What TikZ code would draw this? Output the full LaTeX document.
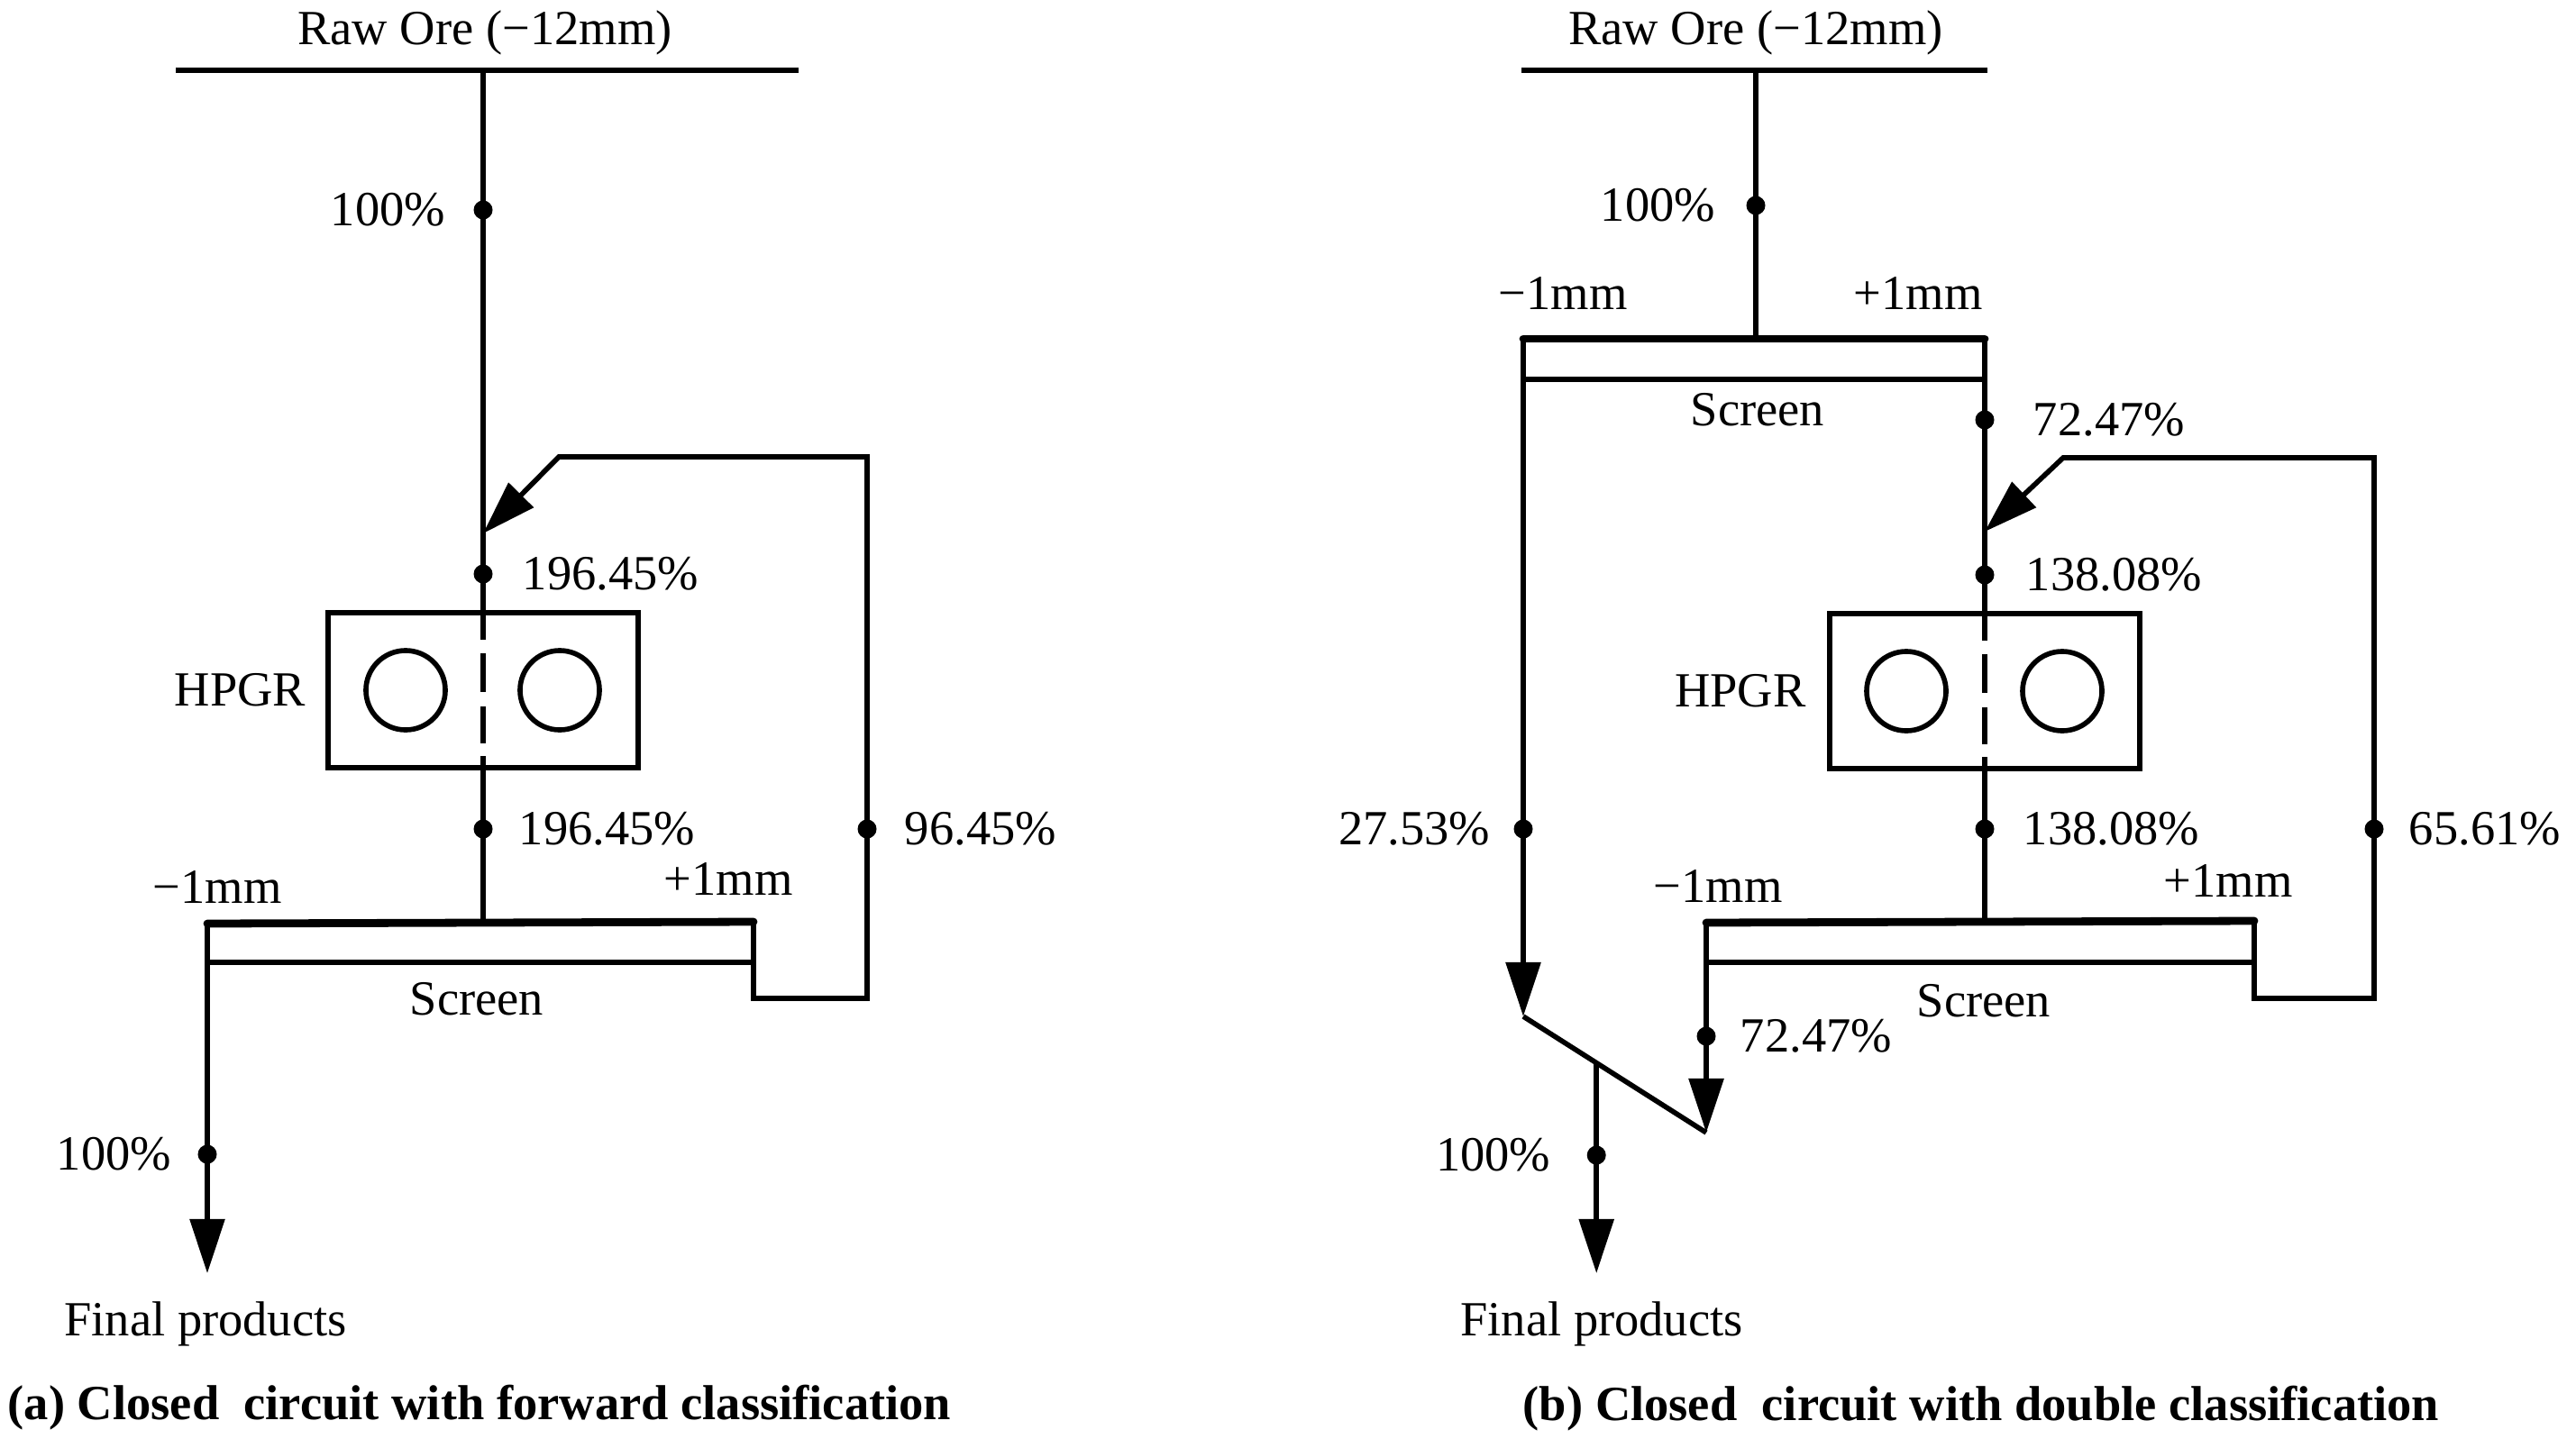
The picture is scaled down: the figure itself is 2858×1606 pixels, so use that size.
\documentclass[tikz,border=0pt]{standalone}
\usepackage{fontspec}
\setmainfont{Liberation Serif}
\usepackage{tikz}
\usetikzlibrary{arrows.meta, positioning, calc}
\tikzstyle{flow} = [
  line width=1.6pt, color=black
]
\tikzstyle{flowarrow} = [
  flow, -{Triangle[length=0.6cm, width=0.38cm]}
]
\tikzstyle{deck} = [
  line width=2.5pt, line cap=round
]
\tikzstyle{gap} = [
  flow, dash pattern=on 0.33cm off 0.15cm on 0.43cm off 0.16cm on 0.41cm off 0.14cm on 0.10cm
]
\tikzstyle{hpgrbox} = [
  rectangle, draw, line width=1.6pt, inner sep=0pt,
  minimum width=3.44cm, minimum height=1.72cm
]
\tikzstyle{roll} = [
  circle, draw, line width=1.6pt, inner sep=0pt, minimum size=0.88cm
]
\tikzstyle{sample} = [
  circle, fill=black, inner sep=0pt, minimum size=0.21cm
]
\tikzstyle{lbl} = [
  inner sep=0pt, font=\fontsize{15.5}{18}\selectfont
]
\tikzstyle{caption} = [
  inner sep=0pt, font=\bfseries\fontsize{15.5}{18}\selectfont
]

\begin{document}
\begin{tikzpicture}[x=0.01cm, y=-0.01cm]
  \useasboundingbox (0,0) rectangle (2858,1606);

  % ── (a) Feed ──────────────────────────────────────────
  \coordinate (barAw) at (195,78);
  \coordinate (barAe) at (886,78);
  \coordinate (feedA) at (536,78);
  \node[lbl] (oreA) at (538,36) {Raw Ore (−12mm)};
  \node[sample] (dA1) at (536,233) {};
  \node[lbl, left=0.3cm of dA1] (pA1) {100\%};

  % ── (a) HPGR ──────────────────────────────────────────
  \coordinate (mergeA) at (536,592);
  \node[sample] (dA2) at (536,637) {};
  \node[lbl, right=0.32cm of dA2] (pA2) {196.45\%};
  \node[hpgrbox] (hpgrA) at (536,766) {};
  \node[roll] (rollA1) at (450,766) {};
  \node[roll] (rollA2) at (621,766) {};
  \node[lbl, left=0.21cm of hpgrA] (nameA) {HPGR};
  \node[sample] (dA3) at (536,920) {};
  \node[lbl, right=0.28cm of dA3] (pA3) {196.45\%};

  % ── (a) Screen ────────────────────────────────────────
  \coordinate (scrAw) at (230,1025);
  \coordinate (scrAe) at (836,1023);
  \coordinate (scrAc) at (536,1024);
  \coordinate (deckAw) at (230,1068);
  \coordinate (deckAe) at (836,1068);
  \node[lbl] (minusA) at (241,984) {−1mm};
  \node[lbl] (plusA) at (808,975) {+1mm};
  \node[lbl] (screenA) at (529,1109) {Screen};

  % ── (a) Recycle ───────────────────────────────────────
  \coordinate (retA1) at (836,1108);
  \coordinate (retA2) at (962,1108);
  \node[sample] (dA4) at (962,920) {};
  \node[lbl, right=0.3cm of dA4] (pA4) {96.45\%};
  \coordinate (retA3) at (962,507);
  \coordinate (retA4) at (620,507);

  % ── (a) Product ───────────────────────────────────────
  \node[sample] (dA5) at (230,1281) {};
  \node[lbl, left=0.28cm of dA5] (pA5) {100\%};
  \coordinate (prodA) at (230,1413);
  \node[lbl] (finalA) at (228,1469) {Final products};
  \node[caption] (capA) at (532,1562) {(a) Closed\ \ circuit with forward classification};

  % ── (a) Lines ─────────────────────────────────────────
  \draw[flow] (barAw) -- (barAe);
  \draw[flow] (feedA) -- (hpgrA.north);
  \draw[gap] (hpgrA.north) -- (hpgrA.south);
  \draw[flow] (hpgrA.south) -- (scrAc);
  \draw[deck] (scrAw) -- (scrAe);
  \draw[flow] (deckAw) -- (deckAe);
  \draw[flowarrow] (scrAe) -- (retA1) -- (retA2) -- (retA3) -- (retA4) -- (mergeA);
  \draw[flowarrow] (scrAw) -- (prodA);

  % ── (b) Feed ──────────────────────────────────────────
  \coordinate (barBw) at (1688,78);
  \coordinate (barBe) at (2205,78);
  \coordinate (feedB) at (1948,78);
  \node[lbl] (oreB) at (1948,36) {Raw Ore (−12mm)};
  \node[sample] (dB1) at (1948,228) {};
  \node[lbl, left=0.33cm of dB1] (pB1) {100\%};

  % ── (b) Top screen ────────────────────────────────────
  \coordinate (topBw) at (1690,376);
  \coordinate (topBe) at (2202,376);
  \coordinate (topBc) at (1948,376);
  \coordinate (tdeckBw) at (1690,421);
  \coordinate (tdeckBe) at (2202,421);
  \node[lbl] (tminusB) at (1734,326) {−1mm};
  \node[lbl] (tplusB) at (2128,326) {+1mm};
  \node[lbl] (tscreenB) at (1950,455) {Screen};
  \node[sample] (dB2) at (2202,466) {};
  \node[lbl, right=0.42cm of dB2] (pB2) {72.47\%};

  % ── (b) HPGR ──────────────────────────────────────────
  \coordinate (mergeB) at (2202,590);
  \node[sample] (dB3) at (2202,638) {};
  \node[lbl, right=0.34cm of dB3] (pB3) {138.08\%};
  \node[hpgrbox] (hpgrB) at (2202,767) {};
  \node[roll] (rollB1) at (2115,767) {};
  \node[roll] (rollB2) at (2288,767) {};
  \node[lbl, left=0.23cm of hpgrB] (nameB) {HPGR};
  \node[sample] (dB4) at (2202,920) {};
  \node[lbl, right=0.31cm of dB4] (pB4) {138.08\%};

  % ── (b) Bottom screen ─────────────────────────────────
  \coordinate (botBw) at (1893,1024);
  \coordinate (botBe) at (2501,1022);
  \coordinate (botBc) at (2202,1023);
  \coordinate (bdeckBw) at (1893,1068);
  \coordinate (bdeckBe) at (2501,1068);
  \node[lbl] (bminusB) at (1906,983) {−1mm};
  \node[lbl] (bplusB) at (2472,977) {+1mm};
  \node[lbl] (bscreenB) at (2201,1111) {Screen};

  % ── (b) Recycle ───────────────────────────────────────
  \coordinate (retB1) at (2501,1108);
  \coordinate (retB2) at (2634,1108);
  \node[sample] (dB5) at (2634,920) {};
  \node[lbl, right=0.27cm of dB5] (pB5) {65.61\%};
  \coordinate (retB3) at (2634,508);
  \coordinate (retB4) at (2289,508);

  % ── (b) Undersize and product ─────────────────────────
  \node[sample] (dB6) at (1690,920) {};
  \node[lbl, left=0.25cm of dB6] (pB6) {27.53\%};
  \coordinate (hopBw) at (1690,1128);
  \node[sample] (dB7) at (1893,1150) {};
  \node[lbl, right=0.26cm of dB7] (pB7) {72.47\%};
  \coordinate (hopBe) at (1893,1257);
  \coordinate (joinB) at ($(hopBw)!0.4!(hopBe)$);
  \node[sample] (dB8) at (joinB |- 0,1282) {};
  \node[lbl, left=0.39cm of dB8] (pB8) {100\%};
  \coordinate (prodB) at (joinB |- 0,1413);
  \node[lbl] (finalB) at (1777,1469) {Final products};
  \node[caption] (capB) at (2198,1563) {(b) Closed\ \ circuit with double classification};

  % ── (b) Lines ─────────────────────────────────────────
  \draw[flow] (barBw) -- (barBe);
  \draw[flow] (feedB) -- (topBc);
  \draw[deck] (topBw) -- (topBe);
  \draw[flow] (tdeckBw) -- (tdeckBe);
  \draw[flow] (topBe) -- (hpgrB.north);
  \draw[gap] (hpgrB.north) -- (hpgrB.south);
  \draw[flow] (hpgrB.south) -- (botBc);
  \draw[deck] (botBw) -- (botBe);
  \draw[flow] (bdeckBw) -- (bdeckBe);
  \draw[flowarrow] (botBe) -- (retB1) -- (retB2) -- (retB3) -- (retB4) -- (mergeB);
  \draw[flowarrow] (topBw) -- (hopBw);
  \draw[flowarrow] (botBw) -- (hopBe);
  \draw[flow] (hopBw) -- (hopBe);
  \draw[flowarrow] (joinB) -- (prodB);

\end{tikzpicture}
\end{document}
